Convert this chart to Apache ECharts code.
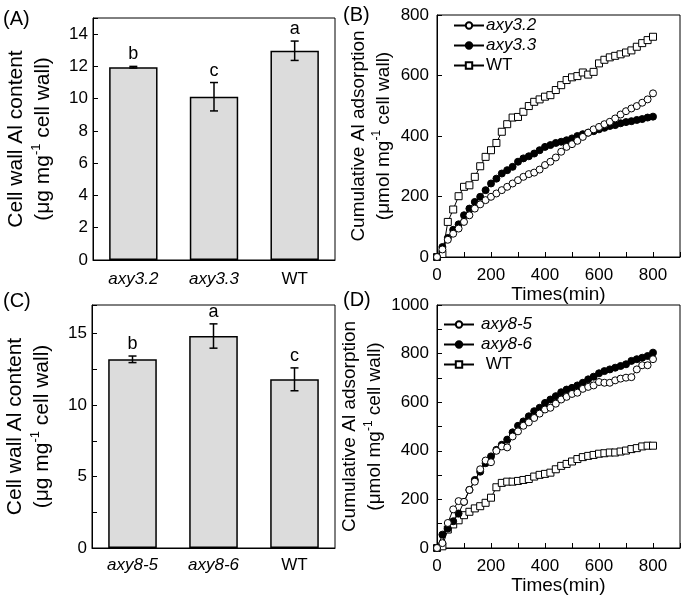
<!DOCTYPE html>
<html>
<head>
<meta charset="utf-8">
<script src="https://cdn.jsdelivr.net/npm/echarts@6/dist/echarts.min.js"></script>
<style>
html,body{margin:0;padding:0;background:#fff;}
#chart{width:685px;height:603px;}
</style>
</head>
<body>
<div id="chart"></div>
<script>
// ---- Data ----
const catsA = ['axy3.2', 'axy3.3', 'WT'];
const meansA = [11.95, 10.12, 12.97];
const errsA = [0.05, 0.88, 0.6];
const lettersA = ['b', 'c', 'a'];

const catsC = ['axy8-5', 'axy8-6', 'WT'];
const meansC = [13.2, 14.83, 11.8];
const errsC = [0.23, 0.85, 0.8];
const lettersC = ['b', 'a', 'c'];

const timeMin = [0,20,40,60,80,100,120,140,160,180,200,220,240,260,280,300,320,340,360,380,400,420,440,460,480,500,520,540,560,580,600,620,640,660,680,700,720,740,760,780,800];

const axy32B = [0,25,57,77,94,116,138,160,174,188,199,210,221,232,243,254,265,274,279,289,304,315,329,348,364,373,384,397,411,422,430,439,447,458,471,482,491,499,510,521,541];
const axy33B = [0,33,63,90,108,138,160,182,199,221,243,259,276,287,298,315,326,333,342,353,364,370,377,381,386,392,400,406,411,416,422,427,433,436,442,446,449,453,456,461,464];
const wtB = [0,10,116,157,201,232,237,265,300,331,353,377,414,439,461,463,480,499,513,521,530,535,552,568,585,594,598,610,603,612,640,652,660,665,670,676,683,695,707,717,728];

const axy85D = [0,20,103,159,193,190,239,273,324,360,353,400,418,414,459,480,503,517,535,553,570,577,594,611,622,634,639,655,663,669,683,680,680,690,697,701,703,735,752,752,777];
const axy86D = [0,55,80,110,142,190,239,280,314,349,377,404,425,446,476,503,521,542,563,577,597,611,625,641,652,659,669,680,694,705,719,728,735,742,749,756,770,777,783,790,804];
const wtD = [0,7,76,97,114,135,149,163,172,186,207,250,268,273,273,276,280,284,294,301,305,310,324,338,346,356,366,374,379,383,388,390,393,393,397,401,407,411,418,421,421];

const yTicksA = [0, 2, 4, 6, 8, 10, 12, 14];
const yTicksC = [0, 5, 10, 15];
const yTicksB = [0, 200, 400, 600, 800];
const yTicksD = [0, 200, 400, 600, 800, 1000];
const xTicksBD = [0, 200, 400, 600, 800];

// ---- Helpers ----
const FONT = 'Liberation Sans, Arial, sans-serif';
const BLACK = '#000';
function pairs(xs, ys) { return xs.map((x, i) => [x, ys[i]]); }

function yName(line1, pre, post) {
  return '{t|' + line1 + '}\n{t|' + pre + '}{s|-1}{t|' + post + '}';
}
function nameRich(fs, lh) {
  return {
    t: { fontSize: fs, lineHeight: lh, fontFamily: FONT, color: BLACK, fontWeight: 'normal' },
    s: { fontSize: Math.round(fs * 0.62), lineHeight: Math.round(fs * 0.72), verticalAlign: 'top', fontFamily: FONT, color: BLACK, fontWeight: 'normal' }
  };
}

function valueAxisY(grid, min, max, interval, labelSet, name, gap, labelMargin, fs, lh) {
  return {
    gridIndex: grid, type: 'value', min: min, max: max, interval: interval,
    axisLine: { show: true, lineStyle: { color: BLACK, width: 1 } },
    axisTick: { show: true, inside: true, length: 5, lineStyle: { color: BLACK } },
    splitLine: { show: false },
    axisLabel: {
      color: BLACK, fontSize: 17, fontFamily: FONT, margin: labelMargin,
      formatter: v => labelSet.includes(v) ? String(v) : ''
    },
    name: name, nameLocation: 'middle', nameGap: gap, nameRotate: 90,
    nameTextStyle: { rich: nameRich(fs, lh), fontSize: fs, lineHeight: lh, fontFamily: FONT, color: BLACK, fontWeight: 'normal' }
  };
}
function valueAxisX(grid, name, gap) {
  return {
    gridIndex: grid, type: 'value', min: 0, max: 900, interval: 100,
    axisLine: { show: true, lineStyle: { color: BLACK, width: 1 } },
    axisTick: { show: true, inside: true, length: 5, lineStyle: { color: BLACK } },
    splitLine: { show: false },
    axisLabel: {
      color: BLACK, fontSize: 17, fontFamily: FONT, margin: 10,
      formatter: v => xTicksBD.includes(v) ? String(v) : ''
    },
    name: name, nameLocation: 'middle', nameGap: gap,
    nameTextStyle: { fontSize: 19, fontFamily: FONT, color: BLACK, fontWeight: 'normal' }
  };
}
function catAxis(grid, cats, margin) {
  return {
    gridIndex: grid, type: 'category', data: cats,
    axisLine: { show: true, lineStyle: { color: BLACK, width: 1 } },
    axisTick: { show: false },
    axisLabel: {
      interval: 0, margin: margin, color: BLACK, fontSize: 17, fontFamily: FONT,
      formatter: n => n === 'WT' ? n : '{i|' + n + '}',
      rich: { i: { fontStyle: 'italic', fontSize: 17, fontFamily: FONT, color: BLACK } }
    }
  };
}
function errSeries(grid, means, errs, letters) {
  return {
    type: 'custom', xAxisIndex: grid, yAxisIndex: grid, z: 5,
    data: means.map((m, i) => [i, m, errs[i]]),
    renderItem: function (params, api) {
      const x = api.value(0), m = api.value(1), e = api.value(2);
      const top = api.coord([x, m + e]);
      const bot = api.coord([x, m - e]);
      const hw = 4;
      const st = { stroke: BLACK, lineWidth: 1.5 };
      return {
        type: 'group',
        children: [
          { type: 'line', shape: { x1: top[0], y1: top[1], x2: bot[0], y2: bot[1] }, style: st },
          { type: 'line', shape: { x1: top[0] - hw, y1: top[1], x2: top[0] + hw, y2: top[1] }, style: st },
          { type: 'line', shape: { x1: bot[0] - hw, y1: bot[1], x2: bot[0] + hw, y2: bot[1] }, style: st },
          { type: 'text', style: { text: letters[params.dataIndex], x: top[0], y: top[1] - 3,
              align: 'center', verticalAlign: 'bottom', fontSize: 18, fontFamily: FONT, fill: BLACK } }
        ]
      };
    }
  };
}
function barSeries(grid, means) {
  return {
    type: 'bar', xAxisIndex: grid, yAxisIndex: grid, data: means, barWidth: '60%',
    itemStyle: { color: '#dcdcdc', borderColor: BLACK, borderWidth: 1.5 }
  };
}
const styles = {
  open: { symbol: 'circle', itemStyle: { color: '#fff', borderColor: BLACK, borderWidth: 1 } },
  filled: { symbol: 'circle', itemStyle: { color: BLACK, borderColor: BLACK, borderWidth: 1 } },
  square: { symbol: 'rect', itemStyle: { color: '#fff', borderColor: BLACK, borderWidth: 1 } }
};
function lineSeries(grid, name, ys, st, z) {
  return {
    type: 'line', name: name, xAxisIndex: grid, yAxisIndex: grid, z: z,
    data: pairs(timeMin, ys), symbol: st.symbol, symbolSize: 7, showSymbol: true,
    lineStyle: { color: BLACK, width: 1 }, itemStyle: st.itemStyle
  };
}
const gridBase = { show: true, borderColor: BLACK, borderWidth: 1, backgroundColor: 'transparent', containLabel: false };

const option = {
  animation: false,
  backgroundColor: '#fff',
  grid: [
    Object.assign({ left: 93, top: 18, width: 242, height: 242 }, gridBase),
    Object.assign({ left: 437, top: 15, width: 243, height: 242 }, gridBase),
    Object.assign({ left: 92, top: 305, width: 243, height: 243 }, gridBase),
    Object.assign({ left: 437, top: 305, width: 243, height: 243 }, gridBase)
  ],
  xAxis: [
    catAxis(0, catsA, 11),
    valueAxisX(1, 'Times(min)', 26),
    catAxis(2, catsC, 9),
    valueAxisX(3, 'Times(min)', 16)
  ],
  yAxis: [
    valueAxisY(0, 0, 15, 2, yTicksA, yName('Cell wall Al content', '(μg mg', ' cell wall)'), 36, 5, 21, 27),
    valueAxisY(1, 0, 800, 200, yTicksB, yName('Cumulative Al adsorption', '(μmol mg', ' cell wall)'), 41, 8, 19, 25),
    valueAxisY(2, 0, 17, 2.5, yTicksC, yName('Cell wall Al content', '(μg mg', ' cell wall)'), 36, 5, 21, 27),
    valueAxisY(3, 0, 1000, 100, yTicksD, yName('Cumulative Al adsorption', '(μmol mg', ' cell wall)'), 41, 8, 19, 25)
  ],
  legend: [
    {
      data: ['axy3.2', 'axy3.3', 'WT'], orient: 'vertical', left: 453, top: 17, itemGap: 3,
      itemWidth: 30, itemHeight: 8, padding: 0,
      formatter: n => n === 'WT' ? n : '{i|' + n + '}',
      textStyle: { fontSize: 17, lineHeight: 17, fontFamily: FONT, color: BLACK, padding: [0, 0, 0, -3],
        rich: { i: { fontStyle: 'italic', fontSize: 17, fontFamily: FONT, color: BLACK } } }
    },
    {
      data: ['axy8-5', 'axy8-6', 'WT '], orient: 'vertical', left: 443, top: 316, itemGap: 3,
      itemWidth: 30, itemHeight: 8, padding: 0,
      formatter: n => n === 'WT ' ? ' WT' : '{i|' + n + '}',
      textStyle: { fontSize: 17, lineHeight: 17, fontFamily: FONT, color: BLACK, padding: [0, 0, 0, 2],
        rich: { i: { fontStyle: 'italic', fontSize: 17, fontFamily: FONT, color: BLACK } } }
    }
  ],
  graphic: [
    { type: 'text', left: 3, top: 9, style: { text: '(A)', fontSize: 20, fontFamily: FONT, fill: BLACK } },
    { type: 'text', left: 343, top: 5, style: { text: '(B)', fontSize: 20, fontFamily: FONT, fill: BLACK } },
    { type: 'text', left: 3, top: 291, style: { text: '(C)', fontSize: 20, fontFamily: FONT, fill: BLACK } },
    { type: 'text', left: 343, top: 290, style: { text: '(D)', fontSize: 20, fontFamily: FONT, fill: BLACK } }
  ],
  series: [
    barSeries(0, meansA),
    errSeries(0, meansA, errsA, lettersA),
    lineSeries(1, 'WT', wtB, styles.square, 2),
    lineSeries(1, 'axy3.3', axy33B, styles.filled, 3),
    lineSeries(1, 'axy3.2', axy32B, styles.open, 4),
    barSeries(2, meansC),
    errSeries(2, meansC, errsC, lettersC),
    lineSeries(3, 'WT ', wtD, styles.square, 2),
    lineSeries(3, 'axy8-6', axy86D, styles.filled, 3),
    lineSeries(3, 'axy8-5', axy85D, styles.open, 4)
  ]
};

const chart = echarts.init(document.getElementById('chart'), null, { renderer: 'canvas' });
chart.setOption(option);
</script>
</body>
</html>
